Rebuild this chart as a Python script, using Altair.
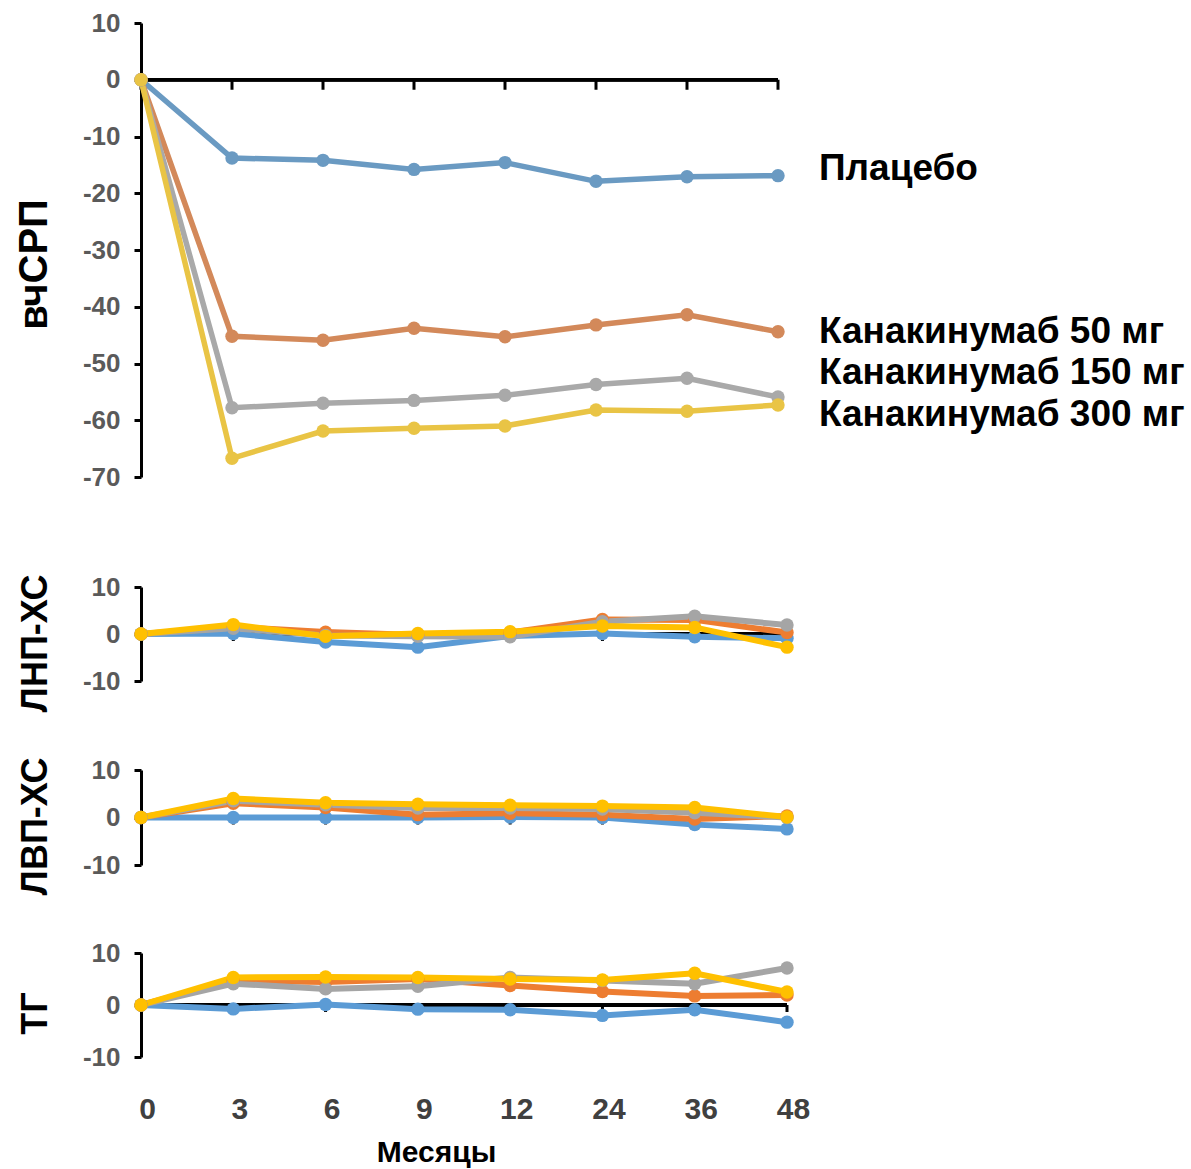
import altair as alt
import pandas as pd

months = ["0", "3", "6", "9", "12", "24", "36", "48"]
series = ["Плацебо", "Канакинумаб 50 мг", "Канакинумаб 150 мг", "Канакинумаб 300 мг"]

hscrp_placebo = [0, -13.8, -14.2, -15.8, -14.6, -17.9, -17.1, -16.9]
hscrp_50 = [0, -45.2, -45.9, -43.8, -45.3, -43.2, -41.4, -44.4]
hscrp_150 = [0, -57.8, -57.0, -56.5, -55.6, -53.7, -52.6, -55.9]
hscrp_300 = [0, -66.7, -61.9, -61.4, -61.0, -58.2, -58.4, -57.3]

ldl_placebo = [0, 0.1, -1.7, -2.8, -0.4, 0.1, -0.6, -0.9]
ldl_50 = [0, 1.5, 0.4, -0.2, 0.3, 3.1, 3.0, 0.3]
ldl_150 = [0, 1.2, -0.3, -0.5, -0.6, 2.6, 3.8, 1.9]
ldl_300 = [0, 2.0, -0.5, 0.1, 0.5, 1.7, 1.4, -2.8]

hdl_placebo = [0, 0, 0, 0, 0.1, 0, -1.5, -2.4]
hdl_50 = [0, 3.0, 2.1, 0.6, 0.9, 0.6, -0.3, 0.3]
hdl_150 = [0, 3.5, 2.7, 2.0, 2.0, 1.8, 1.0, 0.0]
hdl_300 = [0, 4.0, 3.1, 2.8, 2.6, 2.4, 2.1, 0.1]

tg_placebo = [0, -0.75, 0.1, -0.8, -0.9, -2.0, -0.9, -3.3]
tg_50 = [0, 4.7, 4.4, 5.0, 3.75, 2.6, 1.75, 1.9]
tg_150 = [0, 4.1, 3.1, 3.6, 5.3, 4.7, 4.1, 7.1]
tg_300 = [0, 5.3, 5.4, 5.3, 5.0, 4.8, 6.1, 2.5]

top_colors = ["#6A9AC2", "#D3895A", "#A9A9A9", "#E9C445"]
low_colors = ["#5B9BD5", "#ED7D31", "#A5A5A5", "#FFC000"]

TICK_FONT = "Liberation Sans Narrow, Liberation Sans, Arial, sans-serif"
TITLE_FONT = "Liberation Sans, Arial, sans-serif"


def long_df(vals, colors):
    rows = []
    for s, c, arr in zip(series, colors, vals):
        for m, v in zip(months, arr):
            rows.append({"month": m, "value": v, "series": s, "col": c})
    return pd.DataFrame(rows)


def panel(vals, colors, domain, ticks, title, width, height, title_y,
          tick_len, title_size=36, line_w=6, bottom=False, legend=None):
    df = long_df(vals, colors)
    tick_data = -tick_len * (domain[1] - domain[0]) / height
    axis_df = pd.DataFrame({"month": months, "value": [0] * len(months),
                            "tick_end": [tick_data] * len(months)})
    if bottom:
        xaxis = alt.Axis(domain=False, ticks=False, labelAngle=0,
                         labelFont=TITLE_FONT, labelFontSize=30,
                         labelFontWeight="bold", labelColor="#404040",
                         labelPadding=37, labelOffset=6,
                         title="Месяцы", titleFont=TITLE_FONT, titleFontSize=30,
                         titleFontWeight="bold", titleColor="black",
                         titleX=295, titleY=104, titleAlign="center",
                         titleBaseline="alphabetic")
    elif legend:
        # invisible spacer below the top panel
        xaxis = alt.Axis(domain=False, ticks=False, labels=False, title=".",
                         titleColor="white", titleFontSize=10,
                         titlePadding=42)
    else:
        xaxis = None
    x = alt.X("month:O", sort=months, scale=alt.Scale(type="point", padding=0),
              axis=xaxis)
    yaxis = alt.Axis(values=ticks, grid=False, domainColor="black",
                     domainWidth=3, tickColor="black", tickWidth=3, tickSize=7,
                     labelExpr="'' + datum.value",
                     labelFont=TICK_FONT, labelFontSize=26,
                     labelFontWeight="bold", labelColor="#5A5A5A",
                     labelPadding=14, title=title, titleFont=TITLE_FONT,
                     titleFontSize=title_size, titleFontWeight="bold",
                     titleColor="black", titleAngle=270, titleX=-95,
                     titleY=title_y, titleAlign="center",
                     titleBaseline="alphabetic")
    y = alt.Y("value:Q", scale=alt.Scale(domain=domain, nice=False, zero=False),
              axis=yaxis)
    color = alt.Color("col:N", scale=None)
    zero = alt.Chart(axis_df).mark_rule(color="black", strokeWidth=3).encode(
        y=y)
    tick = alt.Chart(axis_df).mark_rule(color="black", strokeWidth=3).encode(
        x=x, y=y, y2="tick_end:Q")
    base = alt.Chart(df).encode(x=x, y=y, color=color, detail="series:N")
    lines = base.mark_line(strokeWidth=line_w)
    pts = base.mark_point(filled=True, size=180, opacity=1)
    layers = [zero, tick, lines, pts]
    if legend:
        for text, px, py in legend:
            layers.append(
                alt.Chart(pd.DataFrame({"label": [text]})).mark_text(
                    align="left", baseline="alphabetic",
                    font=TITLE_FONT, fontSize=37, fontWeight="bold",
                    color="black").encode(text="label:N", x=alt.value(px),
                                          y=alt.value(py)))
    return alt.layer(*layers).properties(width=width, height=height)


top = panel([hscrp_placebo, hscrp_50, hscrp_150, hscrp_300], top_colors,
            [-70, 10], list(range(-70, 11, 10)), "вчСРП", 637, 454, 241, 10,
            title_size=40, line_w=5.5,
            legend=[(series[0], 678, 157), (series[1], 678, 320),
                    (series[2], 678, 361), (series[3], 678, 403)])
p2 = panel([ldl_placebo, ldl_50, ldl_150, ldl_300], low_colors, [-10, 10],
           [-10, 0, 10], "ЛНП-ХС", 646, 94, 56, 7)
p3 = panel([hdl_placebo, hdl_50, hdl_150, hdl_300], low_colors, [-10, 10],
           [-10, 0, 10], "ЛВП-ХС", 646, 95, 56, 7)
p4 = panel([tg_placebo, tg_50, tg_150, tg_300], low_colors, [-10, 10],
           [-10, 0, 10], "ТГ", 646, 104, 60, 7, bottom=True)

chart = alt.vconcat(top, p2, p3, p4, spacing=45).configure_view(
    stroke=None).properties(
    background="white",
    padding={"left": 14, "top": 10, "right": 5, "bottom": 5})

chart.save("out.html", embed_options={"renderer": "svg", "actions": False})
